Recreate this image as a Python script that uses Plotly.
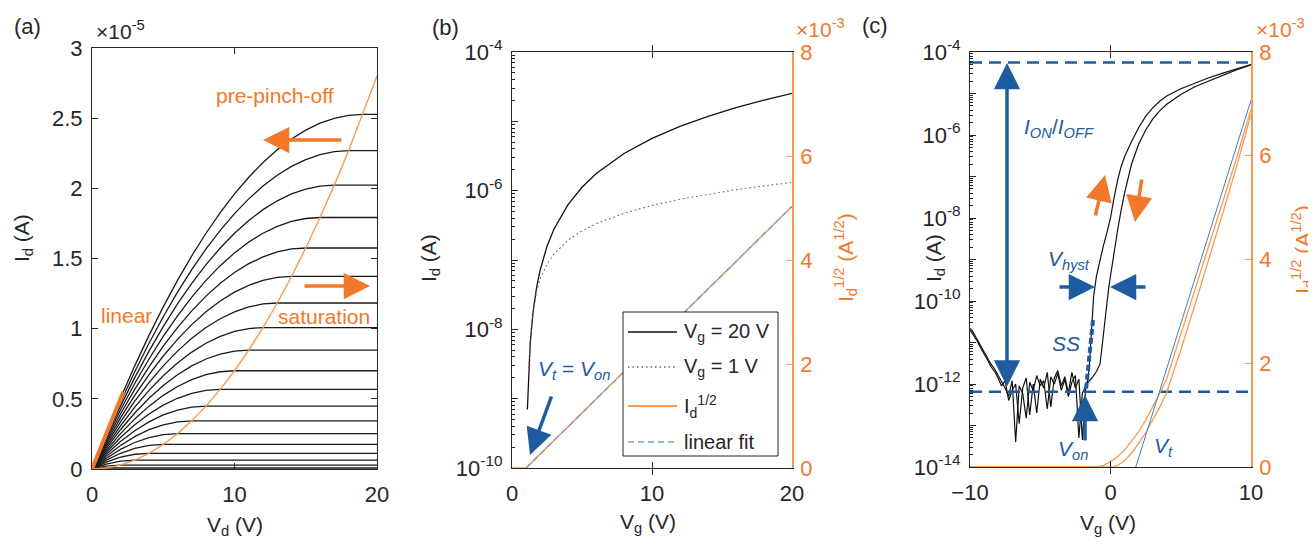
import plotly.graph_objects as go

W, H = 1316, 544
OX, OY = 8, 8          # page body margin of the written html
FONT = "Arial, 'Liberation Sans', Arimo, sans-serif"
DARK = "#262626"
ORANGE = "#F3782A"      # annotation orange
ORANGE_L = "#F59A55"    # sqrt line orange
BLUE = "#1D5C9F"
BLUE_L = "#6FA3D6"

# ---------------- (a) output characteristics ----------------
# drain current (x1e-5 A) at Vd = 0,1,2,... up to the knee, one row per gate step
vd_steps = list(range(0, 21))
out_rows = [
    [0, 0.007],
    [0, 0.021, 0.028],
    [0, 0.035, 0.056, 0.063],
    [0, 0.049, 0.084, 0.105, 0.112],
    [0, 0.063, 0.112, 0.147, 0.168, 0.175],
    [0, 0.077, 0.140, 0.189, 0.224, 0.245, 0.252],
    [0, 0.091, 0.168, 0.231, 0.280, 0.315, 0.336, 0.343],
    [0, 0.105, 0.196, 0.273, 0.336, 0.385, 0.420, 0.441, 0.448],
    [0, 0.119, 0.224, 0.315, 0.392, 0.455, 0.504, 0.539, 0.560, 0.567],
    [0, 0.133, 0.252, 0.357, 0.448, 0.525, 0.588, 0.637, 0.672, 0.693, 0.700],
    [0, 0.147, 0.280, 0.399, 0.504, 0.595, 0.672, 0.735, 0.784, 0.819, 0.840, 0.847],
    [0, 0.161, 0.308, 0.441, 0.560, 0.665, 0.756, 0.833, 0.896, 0.945, 0.980, 1.001, 1.008],
    [0, 0.175, 0.336, 0.483, 0.616, 0.735, 0.840, 0.931, 1.008, 1.071, 1.120, 1.155, 1.176, 1.183],
    [0, 0.189, 0.364, 0.525, 0.672, 0.805, 0.924, 1.029, 1.120, 1.197, 1.260, 1.309, 1.344, 1.365, 1.372],
    [0, 0.203, 0.392, 0.567, 0.728, 0.875, 1.008, 1.127, 1.232, 1.323, 1.400, 1.463, 1.512, 1.547, 1.568, 1.575],
    [0, 0.217, 0.420, 0.609, 0.784, 0.945, 1.092, 1.225, 1.344, 1.449, 1.540, 1.617, 1.680, 1.729, 1.764, 1.785, 1.792],
    [0, 0.231, 0.448, 0.651, 0.840, 1.015, 1.176, 1.323, 1.456, 1.575, 1.680, 1.771, 1.848, 1.911, 1.960, 1.995, 2.016, 2.023],
    [0, 0.245, 0.476, 0.693, 0.896, 1.085, 1.260, 1.421, 1.568, 1.701, 1.820, 1.925, 2.016, 2.093, 2.156, 2.205, 2.240, 2.261, 2.268],
    [0, 0.259, 0.504, 0.735, 0.952, 1.155, 1.344, 1.519, 1.680, 1.827, 1.960, 2.079, 2.184, 2.275, 2.352, 2.415, 2.464, 2.499, 2.520, 2.527],
]
pinch_off = [0, 0.007, 0.028, 0.063, 0.112, 0.175, 0.252, 0.343, 0.448, 0.567, 0.700,
             0.847, 1.008, 1.183, 1.372, 1.575, 1.792, 2.023, 2.268, 2.527, 2.800]
linear_vd = [0, 2.2]
linear_id = [0, 0.55]

# ---------------- (b) transfer characteristics ----------------
vg_b = [1.1, 1.2, 1.3, 1.5, 1.75, 2, 2.5, 3, 4, 5, 6, 8, 10, 12, 14, 16, 18, 20]
id_b_sat = [7.0e-10, 2.8e-9, 6.3e-9, 1.75e-8, 3.94e-8, 7.0e-8, 1.575e-7, 2.8e-7, 6.3e-7,
            1.12e-6, 1.75e-6, 3.43e-6, 5.67e-6, 8.47e-6, 1.183e-5, 1.575e-5, 2.023e-5, 2.527e-5]
vg_b_lin = [1.2, 1.3, 1.5, 1.75, 2, 2.5, 3, 4, 5, 6, 8, 10, 12, 14, 16, 18, 20]
id_b_lin = [2.8e-9, 6.3e-9, 1.75e-8, 3.5e-8, 5.25e-8, 8.75e-8, 1.225e-7, 1.925e-7, 2.625e-7,
            3.325e-7, 4.725e-7, 6.125e-7, 7.525e-7, 8.925e-7, 1.0325e-6, 1.1725e-6, 1.3125e-6]
vg_sqrt_b = [0, 1, 20]
sqrt_b = [0, 0, 5.03]          # x1e-3 A^1/2
vg_fit_b = [1, 20]
fit_b = [0, 5.03]

# ---------------- (c) hysteresis transfer ----------------
vg_off = [-10 + 0.25 * i for i in range(34)]
fwd_off = [2.2e-11, 1.7e-11, 1.2e-11, 8.5e-12, 6e-12, 4.2e-12, 3e-12, 2.3e-12, 1.6e-12, 1.1e-12,
           8e-13, 5e-13, 1.2e-12, 4e-14, 9e-13, 6e-13, 1.5e-13, 1.1e-12, 7e-13, 1.6e-12,
           9e-13, 1.2e-12, 2.5e-13, 1.5e-12, 1e-12, 1.8e-12, 7e-13, 1.3e-12, 5e-13, 1.1e-12,
           1.6e-12, 5e-14, 6e-13, 9e-13]
bwd_off = [2.0e-11, 1.5e-11, 1.1e-11, 7.5e-12, 5.5e-12, 3.8e-12, 2.6e-12, 2e-12, 1.4e-12, 9e-13,
           1.2e-12, 4e-13, 7e-13, 1e-12, 1.1e-13, 8e-13, 1.4e-12, 1.8e-13, 1e-12, 2e-13,
           1.3e-12, 8e-13, 1.9e-12, 2.8e-13, 1.4e-12, 2.1e-12, 9e-13, 1.5e-12, 6e-13, 1.9e-12,
           8e-13, 1.3e-12, 4.5e-14, 1e-12]
vg_fwd_on = [-1.6, -1.5, -1.4, -1.3, -1.2, -1.0, -0.75, -0.5, -0.25, 0, 0.25, 0.5, 0.75, 1.0,
             1.5, 2, 2.5, 3, 3.5, 4, 5, 6, 7, 8, 9, 10]
fwd_on = [1.3e-12, 3e-12, 1.2e-11, 4e-11, 1.3e-10, 4e-10, 1e-9, 2.2e-9, 4.5e-9, 1e-8, 3e-8, 8e-8,
          1.7e-7, 3e-7, 7e-7, 1.5e-6, 2.8e-6, 4.5e-6, 6.5e-6, 8.7e-6, 1.3e-5, 1.8e-5, 2.4e-5,
          3.1e-5, 4e-5, 5e-5]
vg_bwd_on = [-1.5, -1.25, -1.0, -0.75, -0.6, -0.45, -0.3, -0.15, 0, 0.25, 0.5, 0.75, 1.0, 1.5,
             2, 2.5, 3, 3.5, 4, 5, 6, 7, 8, 9, 10]
bwd_on = [1.2e-12, 1.5e-12, 2e-12, 3e-12, 8e-12, 2.5e-11, 7e-11, 1.8e-10, 4e-10, 1.5e-9, 5e-9,
          1.5e-8, 4e-8, 2e-7, 6e-7, 1.3e-6, 2.4e-6, 3.8e-6, 5.5e-6, 9.5e-6, 1.45e-5, 2e-5,
          2.75e-5, 3.75e-5, 4.9e-5]
vg_sq_c = [-10, -1, -0.5, 0, 0.5, 1, 1.5, 2, 2.5, 3, 3.5, 4, 5, 6, 7, 8, 9, 10]
sq_fwd = [0, 0, 0.03, 0.1, 0.2, 0.33, 0.5, 0.68, 0.9, 1.15, 1.42, 1.7, 2.55, 3.4, 4.25, 5.1, 5.98, 6.9]
vg_sq_c2 = [-10, 0.2, 0.5, 1, 1.5, 2, 2.5, 3, 3.5, 4, 5, 6, 7, 8, 9, 10]
sq_bwd = [0, 0, 0.03, 0.12, 0.27, 0.45, 0.66, 0.9, 1.15, 1.44, 2.25, 3.12, 4.0, 4.9, 5.82, 6.8]
vg_fit_c = [1.8, 10]
fit_c = [0, 7.07]
i_on = 5.6e-5
i_off = 6.5e-13

fig = go.Figure()

# (a)
for row in out_rows:
    xs = vd_steps[:len(row)] + [20]
    ys = row + [row[-1]]
    fig.add_trace(go.Scatter(x=xs, y=ys, mode="lines", line=dict(color="#1a1a1a", width=1.3),
                             xaxis="x", yaxis="y", hoverinfo="skip"))
fig.add_trace(go.Scatter(x=vd_steps, y=pinch_off, mode="lines", line=dict(color=ORANGE_L, width=1.4),
                         xaxis="x", yaxis="y"))
fig.add_trace(go.Scatter(x=linear_vd, y=linear_id, mode="lines", line=dict(color=ORANGE, width=4),
                         xaxis="x", yaxis="y"))

# (b)
fig.add_trace(go.Scatter(x=vg_b, y=id_b_sat, mode="lines", line=dict(color="#111111", width=1.3),
                         xaxis="x2", yaxis="y2", name="Vg = 20 V"))
fig.add_trace(go.Scatter(x=vg_b_lin, y=id_b_lin, mode="lines",
                         line=dict(color="#666666", width=1.2, dash="1.5px,3px"),
                         xaxis="x2", yaxis="y2", name="Vg = 1 V"))
fig.add_trace(go.Scatter(x=vg_sqrt_b, y=sqrt_b, mode="lines", line=dict(color=ORANGE_L, width=1.6),
                         xaxis="x2", yaxis="y3", name="Id^1/2"))
fig.add_trace(go.Scatter(x=vg_fit_b, y=fit_b, mode="lines",
                         line=dict(color=BLUE_L, width=1.3, dash="6px,4px"),
                         xaxis="x2", yaxis="y3", name="linear fit"))

# (c)
fig.add_trace(go.Scatter(x=vg_off + vg_fwd_on, y=fwd_off + fwd_on, mode="lines",
                         line=dict(color="#111111", width=1.2), xaxis="x3", yaxis="y4"))
fig.add_trace(go.Scatter(x=vg_off + vg_bwd_on, y=bwd_off + bwd_on, mode="lines",
                         line=dict(color="#111111", width=1.2), xaxis="x3", yaxis="y4"))
for lvl in (i_on, i_off):
    fig.add_trace(go.Scatter(x=[-10, 10], y=[lvl, lvl], mode="lines",
                             line=dict(color=BLUE, width=2.5, dash="12px,7px"),
                             xaxis="x3", yaxis="y4"))
fig.add_trace(go.Scatter(x=vg_sq_c, y=sq_fwd, mode="lines", line=dict(color=ORANGE_L, width=1.3),
                         xaxis="x3", yaxis="y5"))
fig.add_trace(go.Scatter(x=vg_sq_c2, y=sq_bwd, mode="lines", line=dict(color=ORANGE_L, width=1.3),
                         xaxis="x3", yaxis="y5"))
fig.add_trace(go.Scatter(x=vg_fit_c, y=fit_c, mode="lines", line=dict(color="#3B7FC4", width=1),
                         xaxis="x3", yaxis="y5"))


def PX(x):
    return (x - OX) / W


def PY(y):
    return 1 - (y - OY) / H


def dom_x(a, b):
    return [PX(a), PX(b)]


def dom_y(top, bottom):
    return [PY(bottom), PY(top)]


TS = 22
tickfont = dict(family=FONT, size=TS, color=DARK)
otickfont = dict(family=FONT, size=TS, color=ORANGE)
common = dict(showgrid=False, zeroline=False, showline=True, linecolor=DARK, linewidth=1,
              ticks="inside", ticklen=6, tickcolor=DARK, tickfont=tickfont, automargin=False)
right_common = dict(showgrid=False, zeroline=False, showline=True, linecolor=ORANGE_L,
                    linewidth=1.5, ticks="inside", ticklen=6, tickcolor=ORANGE_L,
                    tickfont=otickfont, ticklabelstandoff=2, automargin=False,
                    range=[0, 8], tickvals=[0, 2, 4, 6, 8], side="right")


def decade_minor(lo, hi):
    vals = []
    for k in range(lo, hi):
        for m in range(2, 10):
            vals.append(m * 10.0 ** k)
    return vals


def decade_ticks(lo, hi):
    vals, txt = [], []
    for k in range(lo, hi + 1):
        vals.append(10.0 ** k)
        txt.append("10<sup>%d</sup>" % k if (k - hi) % 2 == 0 else "")
    return vals, txt


yv_b, yt_b = decade_ticks(-10, -4)
yv_c, yt_c = decade_ticks(-14, -4)

fig.update_layout(
    width=W, height=H, margin=dict(l=0, r=0, t=0, b=0, autoexpand=False),
    paper_bgcolor="white", plot_bgcolor="white", showlegend=False,
    font=dict(family=FONT, color=DARK),
    xaxis=dict(domain=dom_x(92, 377), anchor="y", range=[0, 20], tickvals=[0, 10, 20],
               mirror="allticks", ticklabelstandoff=6, **common),
    yaxis=dict(domain=dom_y(48, 469), anchor="x", range=[0, 3],
               tickvals=[0, 0.5, 1, 1.5, 2, 2.5, 3],
               ticktext=["0", "0.5", "1", "1.5", "2", "2.5", "3"],
               mirror="allticks", ticklabelstandoff=4, **common),
    xaxis2=dict(domain=dom_x(512, 792), anchor="y2", range=[0, 20], tickvals=[0, 10, 20],
                mirror="allticks", ticklabelstandoff=6, **common),
    yaxis2=dict(domain=dom_y(52, 468), anchor="x2", type="log", range=[-10, -4],
                tickvals=yv_b, ticktext=yt_b, ticklabelstandoff=4,
                minor=dict(ticks="inside", ticklen=3, tickcolor=DARK, tickvals=decade_minor(-10, -4)),
                **common),
    yaxis3=dict(overlaying="y2", anchor="x2", **right_common),
    xaxis3=dict(domain=dom_x(970, 1251), anchor="y4", range=[-10, 10], tickvals=[-10, 0, 10],
                mirror="allticks", ticklabelstandoff=6, **common),
    yaxis4=dict(domain=dom_y(52, 467), anchor="x3", type="log", range=[-14, -4],
                tickvals=yv_c, ticktext=yt_c, ticklabelstandoff=4,
                minor=dict(ticks="inside", ticklen=3, tickcolor=DARK, tickvals=decade_minor(-14, -4)),
                **common),
    yaxis5=dict(overlaying="y4", anchor="x3", **right_common),
)

ann = []
AS = 21


def T(x, y, s, color=DARK, size=AS, anchor="center", angle=0):
    ann.append(dict(x=PX(x), y=PY(y), xref="paper", yref="paper", text=s, showarrow=False,
                    font=dict(family=FONT, size=size, color=color), xanchor=anchor,
                    yanchor="middle", textangle=angle))


def A(hx, hy, tx, ty, color, width=3.5, size=1.5, both=False):
    d = dict(x=PX(hx), y=PY(hy), xref="paper", yref="paper", ax=tx - hx, ay=ty - hy,
             axref="pixel", ayref="pixel", text="", showarrow=True, arrowhead=2,
             arrowsize=size, arrowwidth=width, arrowcolor=color, standoff=0, startstandoff=0)
    if both:
        d.update(arrowside="end+start", startarrowhead=2, startarrowsize=size)
    ann.append(d)


# panel labels
T(27, 27, "(a)", size=22)
T(445, 28, "(b)", size=22)
T(875, 26, "(c)", size=22)
# exponent labels
T(94, 30, "\u00d710<sup>-5</sup>", anchor="left")
T(794, 28, "\u00d710<sup>-3</sup>", color=ORANGE, anchor="left")
T(1254, 28, "\u00d710<sup>-3</sup>", color=ORANGE, anchor="left")
# axis titles
T(23, 238, "I<sub>d</sub> (A)", angle=-90)
T(235, 526, "V<sub>d</sub> (V)")
T(430, 258, "I<sub>d</sub> (A)", angle=-90)
T(846, 258, "I<sub>d</sub><sup>1/2</sup> (A<sup>1/2</sup>)", color=ORANGE, angle=-90)
T(648, 523, "V<sub>g</sub> (V)")
T(935, 258, "I<sub>d</sub> (A)", angle=-90)
T(1302, 250, "I<sub>d</sub><sup>1/2</sup> (A<sup>1/2</sup>)", color=ORANGE, angle=-90)
T(1108, 524, "V<sub>g</sub> (V)")

# (a) annotations
T(275, 95, "pre-pinch-off", color=ORANGE)
T(324, 316, "saturation", color=ORANGE)
T(126, 315, "linear", color=ORANGE)
A(263, 140, 343, 140, ORANGE)
A(370, 286, 303, 286, ORANGE)

# (b) annotations
T(574, 370, "<i>V<sub>t</sub></i> = <i>V<sub>on</sub></i>", color=BLUE)
A(530, 455, 552, 395, BLUE)

# (c) annotations
T(1059, 128, "<i>I<sub>ON</sub></i>/<i>I<sub>OFF</sub></i>", color=BLUE)
A(1007, 63, 1007, 388, BLUE, both=True)
A(1105, 175, 1095, 217, ORANGE)
A(1135, 222, 1142, 178, ORANGE)
T(1069, 260, "<i>V<sub>hyst</sub></i>", color=BLUE)
A(1095, 287, 1058, 287, BLUE)
A(1110, 287, 1147, 287, BLUE)
T(1066, 343, "<i>SS</i>", color=BLUE)
A(1085, 395, 1085, 442, BLUE)
T(1073, 450, "<i>V<sub>on</sub></i>", color=BLUE)
T(1163, 447, "<i>V<sub>t</sub></i>", color=BLUE)

# (b) legend (drawn manually)
rows_y = [332, 367, 406, 442]
T(682, rows_y[0], "V<sub>g</sub> = 20 V", size=20, anchor="left")
T(682, rows_y[1], "V<sub>g</sub> = 1 V", size=20, anchor="left")
T(682, rows_y[2], "I<sub>d</sub><sup>1/2</sup>", size=20, anchor="left")
T(682, rows_y[3], "linear fit", size=20, anchor="left")

fig.update_layout(annotations=ann)


def L(x0, y0, x1, y1, color, width, dash="solid"):
    return dict(type="line", xref="paper", yref="paper", x0=PX(x0), y0=PY(y0),
                x1=PX(x1), y1=PY(y1), line=dict(color=color, width=width, dash=dash),
                layer="above")


shapes = [
    dict(type="rect", xref="paper", yref="paper", x0=PX(623), x1=PX(778), y0=PY(456),
         y1=PY(312), fillcolor="white", line=dict(color=DARK, width=1), layer="above"),
    L(628, rows_y[0], 677, rows_y[0], "#111111", 1.5),
    L(628, rows_y[1], 677, rows_y[1], "#666666", 1.3, "1.5px,3px"),
    L(628, rows_y[2], 677, rows_y[2], ORANGE_L, 2),
    L(628, rows_y[3], 677, rows_y[3], BLUE_L, 1.5, "6px,4px"),
    L(1093, 320, 1086, 390, BLUE, 4, "6px,3px"),
]
fig.update_layout(shapes=shapes)

fig.write_html("out.html")
